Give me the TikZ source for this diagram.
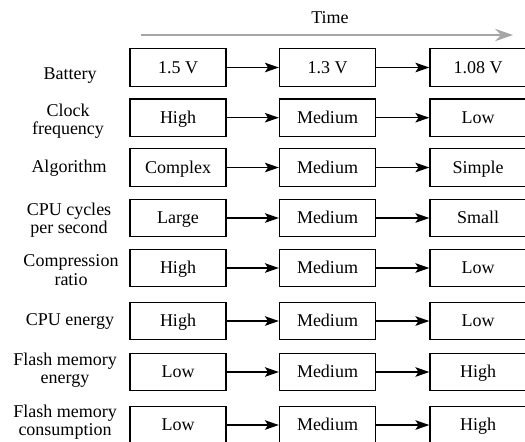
\documentclass[tikz,border=0pt]{standalone}
\usepackage{fontspec}
\setmainfont{Liberation Serif}
\usepackage{tikz}
\usetikzlibrary{arrows.meta,positioning}

\tikzset{
    stagebox/.style={draw,line width=0.65pt,minimum width=48pt,minimum height=18.75pt,inner sep=0pt,
        text height=1.5ex,text depth=0.25ex},
    rowlabel/.style={align=center,inner sep=0pt},
    flow/.style={-{Stealth[length=7pt,width=4.8pt,inset=1.6pt]},line width=0.6pt},
    timeline/.style={-{Stealth[length=9pt,width=6.2pt,inset=3pt]},line width=1pt,draw=black!35}
}

\begin{document}
\begin{tikzpicture}[x=0.5pt,y=-0.5pt,font=\fontsize{9}{9.2}\selectfont]
        \useasboundingbox (0,0) rectangle (525,441);

        %%%% Time axis ==================================
        \node (time) at (330,18) {Time};
        \coordinate (tstart) at (141,35);
        \coordinate (tend) at (513,35);
        \draw[timeline] (tstart) -- (tend);

        %%%% Row labels =================================
        \node[rowlabel] (lbat) at (70,76) {Battery};
        \node[rowlabel] (lclk) at (68,121) {Clock\\frequency};
        \node[rowlabel] (lalg) at (69,168) {Algorithm};
        \node[rowlabel] (lcyc) at (69,220) {CPU cycles\\per second};
        \node[rowlabel] (lcmp) at (71,270) {Compression\\ratio};
        \node[rowlabel] (lcpu) at (70,321) {CPU energy};
        \node[rowlabel] (lfle) at (65,370) {Flash memory\\energy};
        \node[rowlabel] (lflc) at (65,422) {Flash memory\\consumption};

        %%%% Boxes ======================================
        % Battery
        \node[stagebox] (bat1) at (178,67.5) {1.5 V};
        \node[stagebox] (bat2) at (327.5,67.5) {1.3 V};
        \node[stagebox] (bat3) at (478,67.5) {1.08 V};
        % Clock frequency
        \node[stagebox] (clk1) at (178,117.7) {High};
        \node[stagebox] (clk2) at (327.5,117.7) {Medium};
        \node[stagebox] (clk3) at (478,117.7) {Low};
        % Algorithm
        \node[stagebox] (alg1) at (178,167.5) {Complex};
        \node[stagebox] (alg2) at (327.5,167.5) {Medium};
        \node[stagebox] (alg3) at (478,167.5) {Simple};
        % CPU cycles
        \node[stagebox] (cyc1) at (178,218) {Large};
        \node[stagebox] (cyc2) at (327.5,218) {Medium};
        \node[stagebox] (cyc3) at (478,218) {Small};
        % Compression ratio
        \node[stagebox] (cmp1) at (178,268) {High};
        \node[stagebox] (cmp2) at (327.5,268) {Medium};
        \node[stagebox] (cmp3) at (478,268) {Low};
        % CPU energy
        \node[stagebox] (cpu1) at (178,321) {High};
        \node[stagebox] (cpu2) at (327.5,321) {Medium};
        \node[stagebox] (cpu3) at (478,321) {Low};
        % Flash memory energy
        \node[stagebox] (fle1) at (178,372) {Low};
        \node[stagebox] (fle2) at (327.5,372) {Medium};
        \node[stagebox] (fle3) at (478,372) {High};
        % Flash memory consumption
        \node[stagebox] (flc1) at (178,425) {Low};
        \node[stagebox] (flc2) at (327.5,425) {Medium};
        \node[stagebox] (flc3) at (478,425) {High};

        %%%% Arrows =====================================
        \draw[flow] (bat1) -- (bat2);
        \draw[flow] (bat2) -- (bat3);
        \draw[flow] (clk1) -- (clk2);
        \draw[flow] (clk2) -- (clk3);
        \draw[flow] (alg1) -- (alg2);
        \draw[flow] (alg2) -- (alg3);
        \draw[flow] (cyc1) -- (cyc2);
        \draw[flow] (cyc2) -- (cyc3);
        \draw[flow] (cmp1) -- (cmp2);
        \draw[flow] (cmp2) -- (cmp3);
        \draw[flow] (cpu1) -- (cpu2);
        \draw[flow] (cpu2) -- (cpu3);
        \draw[flow] (fle1) -- (fle2);
        \draw[flow] (fle2) -- (fle3);
        \draw[flow] (flc1) -- (flc2);
        \draw[flow] (flc2) -- (flc3);
    \end{tikzpicture}
\end{document}
